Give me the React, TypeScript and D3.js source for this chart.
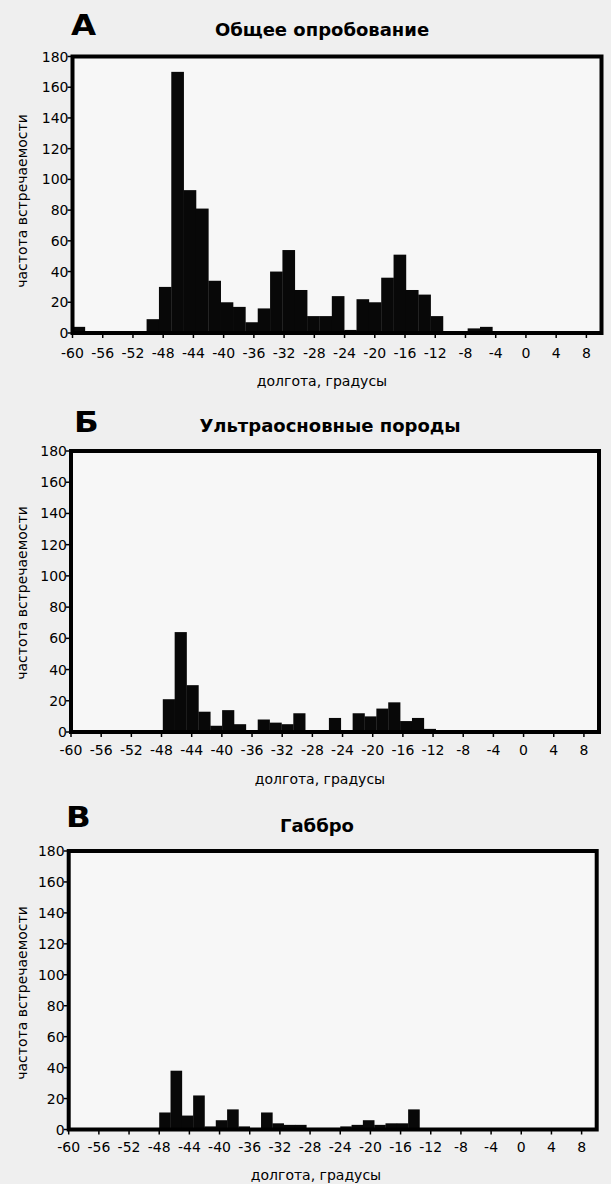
import React from 'react';
import * as d3 from 'd3';

// ---- data ----
const xTicks = [-60, -56, -52, -48, -44, -40, -36, -32, -28, -24, -20, -16, -12, -8, -4, 0, 4, 8];
const yTicks = [0, 20, 40, 60, 80, 100, 120, 140, 160, 180];
const xDomain = [-60, 10];
const yDomain = [0, 180];

const panelLetters = ['А', 'Б', 'В'];
const panelTitles = ['Общее опробование', 'Ультраосновные породы', 'Габбро'];
const yLabel = 'частота встречаемости';
const xLabel = 'долгота, градусы';

// general sampling: bins start at -60, width ~1.634 deg
const binStartA = -60;
const binWidthA = 1.634;
const countsA = [4, 0, 0, 0, 0, 0, 9, 30, 170, 93, 81, 34, 20, 17, 7, 16, 40, 54, 28, 11, 11, 24, 2, 22, 20, 36, 51, 28, 25, 11, 0, 1, 3, 4, 0, 0, 0, 0, 0, 0, 1, 1];

// ultramafic rocks
const binStartB = -47.83;
const binWidthB = 1.573;
const countsB = [21, 64, 30, 13, 4, 14, 5, 1, 8, 6, 5, 12, 1, 1, 9, 1, 12, 10, 15, 19, 7, 9, 2];

// gabbro
const binStartC = -48;
const binWidthC = 1.5;
const countsC = [11, 38, 9, 22, 2, 6, 13, 2, 0, 11, 4, 3, 3, 1, 1, 1, 2, 3, 6, 3, 4, 4, 13];

const series = [
  { start: binStartA, width: binWidthA, counts: countsA },
  { start: binStartB, width: binWidthB, counts: countsB },
  { start: binStartC, width: binWidthC, counts: countsC },
];

// ---- layout ----
const layouts = [
  { left: 72.5, right: 601.5, top: 56.5, bottom: 333, letterX: 71, letterY: 35, titleX: 322, titleY: 36, xTickY: 358, xTitleX: 322, xTitleY: 386, yTitleY: 201 },
  { left: 71, right: 599, top: 451, bottom: 732, letterX: 74, letterY: 432, titleX: 330, titleY: 432, xTickY: 755, xTitleX: 320, xTitleY: 784, yTitleY: 593 },
  { left: 68.7, right: 596.7, top: 851, bottom: 1129.5, letterX: 66, letterY: 827, titleX: 317, titleY: 832, xTickY: 1152, xTitleX: 316, xTitleY: 1180, yTitleY: 993 },
];

const FONT = '"DejaVu Sans", Arial, sans-serif';

function Panel({ idx }: { idx: number }) {
  const L = layouts[idx];
  const s = series[idx];
  const x = d3.scaleLinear().domain(xDomain).range([L.left, L.right]);
  const y = d3.scaleLinear().domain(yDomain).range([L.bottom, L.top]);
  return (
    <g>
      <rect x={L.left} y={L.top} width={L.right - L.left} height={L.bottom - L.top} fill="#f7f7f7" />
      {s.counts.map((v, i) => {
        if (v <= 0) return null;
        const x0 = Math.max(xDomain[0], s.start + i * s.width);
        const x1 = Math.min(xDomain[1], s.start + (i + 1) * s.width);
        return (
          <rect key={i} x={x(x0)} y={y(v)} width={x(x1) - x(x0) + 0.3} height={y(0) - y(v)} fill="#080808" />
        );
      })}
      <rect x={L.left} y={L.top} width={L.right - L.left} height={L.bottom - L.top} fill="none" stroke="#000" strokeWidth={4} />
      {yTicks.map((t) => (
        <g key={'y' + t}>
          <line x1={L.left - 5} x2={L.left} y1={y(t)} y2={y(t)} stroke="#000" strokeWidth={1.5} />
          <text x={L.left - 4} y={y(t) + 5} textAnchor="end" fontFamily={FONT} fontSize={14} fill="#000">{t}</text>
        </g>
      ))}
      {xTicks.map((t) => (
        <g key={'x' + t}>
          <line x1={x(t)} x2={x(t)} y1={L.bottom} y2={L.bottom + 5} stroke="#000" strokeWidth={1.5} />
          <text x={x(t)} y={L.xTickY} textAnchor="middle" fontFamily={FONT} fontSize={14} fill="#000">{t}</text>
        </g>
      ))}
      <text transform={`translate(${L.letterX},${L.letterY}) scale(1.12,1)`} fontFamily={FONT} fontWeight="bold" fontSize={29} fill="#000">{panelLetters[idx]}</text>
      <text x={L.titleX} y={L.titleY} textAnchor="middle" fontFamily={FONT} fontWeight="bold" fontSize={18} fill="#000">{panelTitles[idx]}</text>
      <text x={L.xTitleX} y={L.xTitleY} textAnchor="middle" fontFamily={FONT} fontSize={14} fill="#000">{xLabel}</text>
      <text transform={`translate(27,${L.yTitleY}) rotate(-90)`} textAnchor="middle" fontFamily={FONT} fontSize={14} fill="#000">{yLabel}</text>
    </g>
  );
}

export default function App() {
  return (
    <svg width={611} height={1184} style={{ position: 'absolute', left: 0, top: 0, display: 'block' }}>
      <rect x={0} y={0} width={611} height={1184} fill="#efefef" />
      {[0, 1, 2].map((i) => (
        <Panel key={i} idx={i} />
      ))}
    </svg>
  );
}
